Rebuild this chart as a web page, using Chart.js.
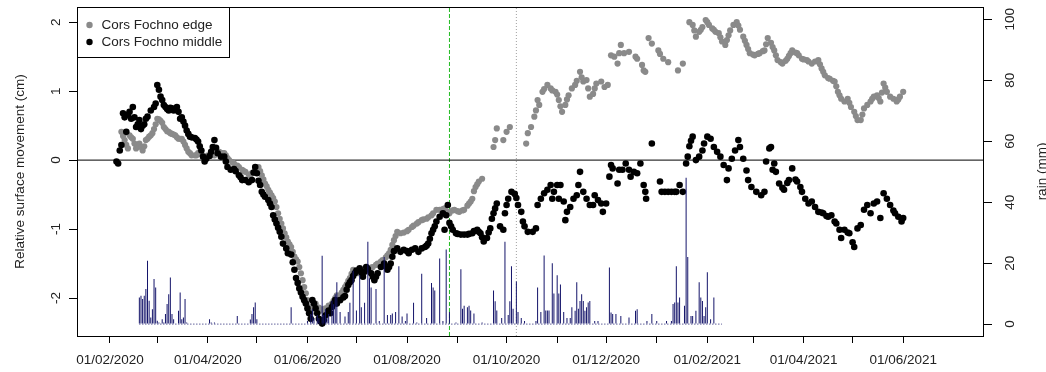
<!DOCTYPE html>
<html>
<head>
<meta charset="utf-8">
<script src="https://cdn.jsdelivr.net/npm/chart.js@4.4.0/dist/chart.umd.min.js"></script>
<style>
  body { margin: 0; background: #fff; }
  canvas { display: block; }
</style>
</head>
<body>
<canvas id="movementChart" width="1046" height="372"></canvas>
<script>
// Day numbers count from 01/02/2020 (day 0)
const START = Date.UTC(2020, 1, 1);
const DAY_MS = 86400000;

// Cors Fochno edge: [day, cm]
const edgeSeries = [
  [7,0.41],[8,0.35],[9,0.29],[10,0.22],[11,0.17],[12,0.36],[13,0.33],[14,0.31],[15,0.24],[16,0.17],[17,0.20],[18,0.24],
  [19,0.19],[20,0.14],[21,0.20],[22,0.29],[23,0.31],[24,0.34],[25,0.36],[26,0.39],[27,0.45],[28,0.52],[29,0.60],[30,0.59],
  [31,0.57],[32,0.54],[33,0.48],[34,0.45],[35,0.42],[36,0.41],[37,0.39],[38,0.38],[39,0.37],[40,0.36],[41,0.33],[42,0.31],
  [43,0.31],[44,0.31],[45,0.27],[46,0.22],[47,0.17],[48,0.12],[49,0.10],[50,0.07],[52,0.07],[53,0.07],[54,0.10],[55,0.12],
  [56,0.09],[58,0.05],[60,0.07],[62,0.07],[64,0.07],[66,0.11],[67,0.12],[69,0.10],[70,0.10],[71,0.07],[72,0.03],[73,0.0],
  [75,-0.03],[76,-0.05],[78,-0.08],[79,-0.10],[81,-0.14],[82,-0.16],[83,-0.17],[85,-0.21],[86,-0.22],[87,-0.19],[89,-0.14],
  [90,-0.12],[91,-0.10],[92,-0.16],[93,-0.22],[94,-0.28],[95,-0.34],[96,-0.38],[97,-0.43],[98,-0.47],[99,-0.51],[100,-0.55],
  [101,-0.60],[102,-0.68],[103,-0.77],[104,-0.85],[105,-0.92],[106,-0.99],[107,-1.06],[108,-1.12],[109,-1.18],[110,-1.22],
  [111,-1.26],[112,-1.33],[113,-1.40],[114,-1.44],[115,-1.47],[116,-1.55],[117,-1.64],[118,-1.74],[119,-1.84],[120,-1.93],
  [121,-2.03],[122,-2.12],[123,-2.22],[124,-2.15],[125,-2.10],[126,-2.08],[128,-2.14],[129,-2.18],[131,-2.16],[132,-2.15],
  [134,-2.11],[136,-2.08],[137,-2.04],[138,-2.00],[139,-1.96],[141,-1.96],[142,-1.92],[143,-1.88],[144,-1.84],[145,-1.80],
  [146,-1.75],[147,-1.71],[148,-1.65],[149,-1.59],[151,-1.63],[152,-1.64],[154,-1.60],[155,-1.59],[157,-1.58],[158,-1.57],
  [160,-1.56],[161,-1.55],[163,-1.52],[164,-1.50],[166,-1.47],[167,-1.45],[169,-1.41],[170,-1.38],[171,-1.35],[172,-1.30],
  [173,-1.23],[174,-1.16],[175,-1.10],[176,-1.04],[178,-1.06],[180,-1.05],[182,-1.03],[183,-1.01],[185,-0.97],[186,-0.95],
  [188,-0.92],[189,-0.90],[191,-0.87],[192,-0.86],[194,-0.85],[195,-0.83],[197,-0.80],[198,-0.77],[200,-0.72],[202,-0.72],
  [204,-0.71],[205,-0.70],[207,-0.75],[208,-0.77],[210,-0.73],[211,-0.72],[213,-0.74],[214,-0.75],[216,-0.73],[217,-0.72],
  [219,-0.66],[220,-0.63],[221,-0.60],[222,-0.56],[223,-0.45],[224,-0.39],[225,-0.35],[226,-0.31],[228,-0.27],
  [235,0.19],[236,0.29],[237,0.46],[241,0.29],[243,0.41],[245,0.48],
  [255,0.24],[256,0.39],[258,0.48],[260,0.63],[261,0.72],[262,0.87],[263,0.80],[265,0.99],[266,1.03],[268,1.09],[270,1.04],
  [271,1.01],[273,0.99],[274,0.95],[275,0.87],[276,0.78],[277,0.70],[279,0.80],[280,0.88],[281,0.94],[283,1.04],[285,1.09],
  [286,1.15],[288,1.28],[289,1.20],[290,1.14],[292,1.16],[293,1.04],[294,0.92],[296,0.96],[297,1.04],[298,1.11],[301,1.14],
  [303,1.06],[305,1.09],[307,1.52],[309,1.50],[311,1.40],[312,1.55],[313,1.67],[315,1.55],[318,1.57],[322,1.50],[323,1.47],
  [326,1.38],[327,1.30],[328,1.28],[330,1.77],[332,1.69],[336,1.59],[337,1.54],[339,1.47],[342,1.42],[348,1.30],[351,1.40],
  [355,2.00],[357,1.96],[358,1.88],[359,1.79],[361,1.86],[362,1.89],[363,1.93],[365,2.03],[366,2.00],[367,1.96],[369,1.91],
  [370,1.89],[371,1.86],[373,1.84],[374,1.78],[375,1.72],[377,1.67],[378,1.74],[379,1.81],[380,1.88],[382,1.96],[384,2.00],
  [385,1.95],[386,1.89],[388,1.79],[389,1.73],[390,1.67],[391,1.61],[392,1.55],[394,1.53],[395,1.52],[397,1.54],[398,1.55],
  [400,1.58],[401,1.59],[402,1.68],[403,1.77],[405,1.70],[406,1.64],[407,1.59],[408,1.52],[409,1.45],[411,1.42],[412,1.40],
  [414,1.44],[415,1.47],[416,1.51],[417,1.55],[418,1.59],[420,1.56],[421,1.55],[422,1.52],[424,1.47],[425,1.46],[427,1.45],
  [428,1.43],[430,1.40],[432,1.43],[434,1.45],[435,1.39],[436,1.33],[437,1.28],[438,1.23],[440,1.19],[441,1.18],[443,1.15],
  [444,1.14],[445,1.07],[446,0.99],[447,0.94],[448,0.89],[450,0.85],[452,0.89],[453,0.83],[454,0.77],[456,0.70],[457,0.64],
  [458,0.58],[460,0.58],[461,0.66],[462,0.75],[464,0.80],[466,0.85],[467,0.89],[468,0.92],[470,0.94],[471,0.90],[472,0.85],
  [473,0.98],[474,1.11],[475,1.05],[476,0.99],[478,0.92],[480,0.89],[482,0.85],[483,0.88],[484,0.92],[486,0.99]
];

// Cors Fochno middle: [day, cm]
const middleSeries = [
  [4,-0.02],[5,-0.05],[6,0.14],[7,0.22],[8,0.68],[9,0.62],[10,0.41],[11,0.66],[12,0.70],[13,0.60],[14,0.77],[15,0.62],
  [16,0.48],[17,0.52],[18,0.58],[19,0.45],[20,0.50],[21,0.52],[22,0.60],[23,0.63],[25,0.72],[27,0.77],[28,0.82],[29,1.09],
  [30,1.02],[31,0.92],[32,0.87],[33,0.80],[34,0.77],[35,0.74],[36,0.72],[37,0.76],[38,0.75],[39,0.72],[41,0.77],[42,0.70],
  [43,0.60],[44,0.62],[45,0.56],[46,0.50],[47,0.43],[48,0.38],[49,0.34],[50,0.33],[52,0.32],[53,0.30],[54,0.27],[55,0.20],
  [56,0.14],[57,0.05],[58,-0.02],[59,0.02],[61,0.06],[62,0.12],[63,0.19],[64,0.29],[65,0.18],[66,0.10],[68,0.05],[70,0.05],
  [71,-0.02],[72,-0.10],[74,-0.14],[76,-0.13],[77,-0.16],[79,-0.22],[80,-0.25],[81,-0.29],[83,-0.29],[85,-0.32],[87,-0.29],
  [88,-0.18],[89,-0.10],[90,-0.19],[91,-0.30],[92,-0.36],[93,-0.46],[94,-0.50],[95,-0.53],[97,-0.58],[98,-0.63],[99,-0.68],
  [100,-0.80],[101,-0.86],[102,-0.92],[103,-0.98],[104,-1.04],[105,-1.11],[106,-1.21],[108,-1.28],[109,-1.35],[111,-1.37],
  [112,-1.48],[113,-1.59],[114,-1.71],[115,-1.78],[116,-1.86],[117,-1.92],[118,-1.98],[119,-2.03],[120,-2.08],[121,-2.15],
  [122,-2.22],[123,-2.30],[124,-2.03],[125,-2.08],[126,-2.15],[127,-2.22],[128,-2.30],[129,-2.34],[130,-2.37],[131,-2.32],
  [132,-2.25],[134,-2.18],[135,-2.22],[136,-2.13],[137,-2.08],[138,-2.03],[139,-2.08],[141,-2.03],[143,-1.99],[144,-1.97],
  [145,-1.88],[146,-1.81],[147,-1.77],[148,-1.74],[149,-1.68],[150,-1.64],[151,-1.60],[153,-1.57],[154,-1.63],[155,-1.69],
  [156,-1.62],[157,-1.55],[158,-1.58],[160,-1.64],[161,-1.69],[162,-1.74],[163,-1.69],[164,-1.64],[166,-1.55],[168,-1.50],
  [169,-1.54],[170,-1.59],[171,-1.55],[172,-1.50],[173,-1.40],[174,-1.32],[176,-1.28],[178,-1.33],[180,-1.30],[182,-1.32],
  [183,-1.35],[185,-1.30],[187,-1.28],[189,-1.33],[191,-1.28],[193,-1.26],[194,-1.24],[195,-1.21],[196,-1.14],[197,-1.06],
  [198,-1.01],[199,-0.96],[200,-0.89],[202,-0.82],[204,-0.77],[205,-1.01],[206,-0.80],[207,-0.65],[208,-0.91],[209,-0.96],
  [210,-1.01],[212,-1.06],[213,-1.07],[215,-1.08],[217,-1.08],[219,-1.08],[220,-1.07],[222,-1.06],[223,-1.03],[225,-1.01],
  [226,-1.04],[227,-1.06],[228,-1.12],[229,-1.18],[231,-1.13],[232,-1.05],[233,-0.99],[234,-0.85],[235,-0.77],[236,-0.70],
  [237,-0.63],[239,-0.96],[241,-1.01],[242,-0.77],[243,-0.65],[244,-0.56],[246,-0.46],[248,-0.49],[249,-0.55],[250,-0.65],
  [252,-0.75],[253,-0.89],[254,-0.96],[256,-1.04],[259,-1.04],[261,-0.99],[262,-0.65],[264,-0.56],[266,-0.48],[268,-0.43],
  [270,-0.36],[271,-0.56],[272,-0.46],[274,-0.36],[275,-0.56],[276,-0.36],[278,-0.60],[279,-0.87],[280,-0.75],[282,-0.68],
  [284,-0.56],[286,-0.51],[287,-0.36],[288,-0.17],[290,-0.46],[292,-0.56],[294,-0.65],[296,-0.65],[297,-0.51],[299,-0.58],
  [301,-0.63],[302,-0.75],[304,-0.63],[306,-0.24],[307,-0.07],[308,-0.12],[311,-0.34],[312,-0.14],[314,-0.14],[316,-0.05],
  [318,-0.14],[319,-0.24],[321,-0.17],[323,-0.19],[325,-0.05],[327,-0.36],[328,-0.46],[328.5,-0.56],[332,0.24],[337,-0.31],
  [338,-0.46],[340,-0.46],[342,-0.46],[344,-0.46],[346,-0.46],[347,-0.46],[349,-0.36],[351,-0.46],[353,-0.05],[354,0.05],
  [355,0.20],[356,0.28],[357,0.34],[359,0.0],[361,0.05],[363,0.14],[364,0.24],[366,0.34],[368,0.31],[370,0.19],[372,0.12],
  [374,0.05],[376,-0.07],[378,-0.29],[379,-0.12],[381,0.02],[383,0.14],[385,0.29],[386,0.19],[388,0.02],[390,-0.15],
  [391,-0.29],[393,-0.39],[396,-0.46],[399,-0.51],[401,-0.46],[402,-0.02],[404,0.17],[405,0.19],[406,-0.14],[407,-0.05],
  [408,-0.17],[410,-0.34],[412,-0.40],[413,-0.43],[415,-0.33],[416,-0.29],[418,-0.12],[420,-0.28],[421,-0.31],[423,-0.39],
  [424,-0.46],[426,-0.56],[428,-0.63],[430,-0.60],[432,-0.68],[434,-0.75],[436,-0.76],[437,-0.77],[439,-0.81],[440,-0.82],
  [442,-0.80],[444,-0.89],[445,-0.92],[447,-1.01],[448,-1.13],[450,-1.01],[452,-1.05],[453,-1.06],[455,-1.19],[456,-1.26],
  [458,-0.99],[460,-0.94],[462,-0.72],[464,-0.65],[466,-0.77],[468,-0.63],[470,-0.60],[472,-0.84],[474,-0.48],[476,-0.56],
  [478,-0.65],[480,-0.73],[481,-0.77],[483,-0.82],[485,-0.89],[486,-0.84]
];

// Daily rain: [day, mm]
const rainSeries = [
  [18,8.7],[19,9.3],[20,8.2],[21,9.3],[22,11.5],[23,20.8],[24,7.7],[25,2.2],[26,4.9],[27,14.8],[28,12],[29,1.1],[30,0.5],
  [32,1.6],[33,0.5],[34,3.3],[35,6.6],[36,9.8],[37,15.3],[38,3.3],[39,1.6],[42,4.4],[43,10.4],[44,1.6],[45,2.2],[46,8.2],
  [47,0.5],[61,1.6],[62,0.5],[64,0.5],[78,2.7],[86,1.5],[87,3.3],[88,5.5],[89,7.1],[90,1.6],[111,5.5],[121,1],[123,3.3],
  [124,4.9],[125,2],[127,3],[128,2],[130,22.4],[131,3],[132,4.9],[133,2],[134,3.3],[136,7.7],[137,6.5],[138,9.8],[139,13.7],
  [141,4],[144,2.5],[146,4],[147,7],[149,17.5],[151,4.5],[153,16],[154,5.5],[156,7],[158,27],[159,15],[160,12],[163,11.5],
  [165,1],[168,22],[170,3],[172,3],[173,3.5],[175,4],[177,19],[179,2.5],[181,1],[182,3.5],[186,7],[188,0.5],[191,16.5],
  [194,2],[197,13.5],[198,12],[199,11],[202,21.5],[204,1],[206,24.5],[208,4],[212,0.5],[215,18],[216,5],[217,6],[219,5.5],
  [220,6],[221,4.5],[223,3.5],[228,0.5],[235,11],[236,7.5],[237,4.5],[240,2],[242,27],[244,3],[245,7.5],[246,19],[247,5],
  [249,14],[250,4],[252,2],[254,1],[261,1],[262,12],[264,4],[266,22.5],[267,4.5],[268,4.5],[269,4.5],[271,20],[272,10],
  [274,16],[275,10],[276,13],[278,4],[280,2],[282,2],[283,5.5],[285,4.4],[286,13.7],[287,5],[288,7.6],[289,9.8],[290,7.6],
  [291,4.4],[292,5.5],[293,7.1],[294,7.6],[297,1],[299,1],[306,18.6],[307,3.8],[308,3.3],[310,3.3],[313,2.7],[318,2.2],
  [322,4.4],[323,4.9],[329,1],[332,3.3],[335,1],[341,1],[344,1],[345,6.6],[346,7.1],[347,19],[348,7.1],[349,8.7],[352,6],
  [353,48],[354,22],[356,2.7],[357,2.7],[359,4.4],[361,13.7],[362,8.7],[363,7.6],[364,2.7],[365,5.5],[366,17],[368,1.6],
  [370,8.7],[375,0.2]
];

// Marked dates (vertical lines)
const greenLineDate = Date.UTC(2020, 7, 27);
const greyLineDate = Date.UTC(2020, 9, 7);

// Axis ticks
const monthTicks = [
  [2020,1],[2020,2],[2020,3],[2020,4],[2020,5],[2020,6],[2020,7],[2020,8],[2020,9],[2020,10],[2020,11],
  [2021,0],[2021,1],[2021,2],[2021,3],[2021,4],[2021,5]
];
const monthLabels = ['01/02/2020','','01/04/2020','','01/06/2020','','01/08/2020','','01/10/2020','','01/12/2020',
  '','01/02/2021','','01/04/2021','','01/06/2021'];
const leftTicks = [-2, -1, 0, 1, 2];
const rightTicks = [0, 20, 40, 60, 80, 100];

const X_MIN = -20.2, X_MAX = 534.9;
const Y_MIN = -2.55, Y_MAX = 2.22;
const R_MIN = -3.9, R_MAX = 104;

const toDay = t => (t - START) / DAY_MS;
const tickDays = monthTicks.map(([y, m]) => toDay(Date.UTC(y, m, 1)));
const pts = arr => arr.map(([d, v]) => ({ x: d, y: v }));

const FONT = { family: 'Liberation Sans, Arial, sans-serif', size: 13.5 };
const TEXT = '#222';
const RAIN = '#14146a';

// Box, rotated axis labels, titles and legend
const decorations = {
    id: 'decorations',
    afterDraw(chart) {
        const ctx = chart.ctx;
        const a = chart.chartArea;
        ctx.save();
        ctx.strokeStyle = '#000';
        ctx.lineWidth = 1;
        ctx.strokeRect(Math.round(a.left) + 0.5, Math.round(a.top) + 0.5,
            Math.round(a.right - a.left), Math.round(a.bottom - a.top));

        ctx.fillStyle = TEXT;
        ctx.font = FONT.size + 'px ' + FONT.family;
        ctx.textAlign = 'center';
        ctx.textBaseline = 'middle';
        const rotText = (txt, x, y) => {
            ctx.save();
            ctx.translate(x, y);
            ctx.rotate(-Math.PI / 2);
            ctx.fillText(txt, 0, 0);
            ctx.restore();
        };
        const yl = chart.scales.y, yr = chart.scales.y1;
        yl.ticks.forEach(t => rotText(String(t.value), 56, yl.getPixelForValue(t.value)));
        yr.ticks.forEach(t => rotText(String(t.value), 1010, yr.getPixelForValue(t.value)));
        const mid = (a.top + a.bottom) / 2;
        rotText('Relative surface movement (cm)', 20, mid);
        rotText('rain (mm)', 1042, mid);

        // legend box
        const lx = Math.round(a.left) + 0.5, ly = Math.round(a.top) + 0.5;
        ctx.fillStyle = '#fff';
        ctx.fillRect(lx, ly, 152, 50);
        ctx.strokeRect(lx, ly, 152, 50);
        const items = [chart.data.datasets[1], chart.data.datasets[0]];
        items.forEach((ds, i) => {
            const cy = ly + 17.5 + i * 17;
            ctx.fillStyle = ds.backgroundColor;
            ctx.beginPath();
            ctx.arc(lx + 12, cy, 3.2, 0, Math.PI * 2);
            ctx.fill();
            ctx.fillStyle = TEXT;
            ctx.textAlign = 'left';
            ctx.fillText(ds.label, lx + 24, cy);
        });
        ctx.restore();
    }
};

const ctx = document.getElementById('movementChart').getContext('2d');
new Chart(ctx, {
    data: {
        datasets: [
            {
                type: 'scatter',
                label: 'Cors Fochno middle',
                data: pts(middleSeries),
                backgroundColor: '#000',
                borderWidth: 0,
                pointRadius: 3.3,
                yAxisID: 'y',
                order: 1
            },
            {
                type: 'scatter',
                label: 'Cors Fochno edge',
                data: pts(edgeSeries),
                backgroundColor: '#8a8a8a',
                borderWidth: 0,
                pointRadius: 3.1,
                yAxisID: 'y',
                order: 2
            },
            {
                type: 'bar',
                label: 'rain',
                data: pts(rainSeries),
                backgroundColor: RAIN,
                barThickness: 1,
                inflateAmount: 0,
                yAxisID: 'y1',
                order: 0
            },
            {
                type: 'line',
                label: 'rain zero',
                data: [{ x: rainSeries[0][0], y: 0 }, { x: rainSeries[rainSeries.length - 1][0], y: 0 }],
                borderColor: RAIN,
                borderWidth: 1,
                borderDash: [1, 2],
                pointRadius: 0,
                yAxisID: 'y1',
                order: 0
            },
            {
                type: 'line',
                label: 'zero',
                data: [{ x: X_MIN, y: 0 }, { x: X_MAX, y: 0 }],
                borderColor: '#000',
                borderWidth: 1,
                pointRadius: 0,
                yAxisID: 'y',
                order: 3
            },
            {
                type: 'line',
                label: 'green marker',
                data: [{ x: toDay(greenLineDate), y: Y_MIN }, { x: toDay(greenLineDate), y: Y_MAX }],
                borderColor: '#22bb22',
                borderWidth: 1,
                borderDash: [4, 2],
                pointRadius: 0,
                yAxisID: 'y',
                order: 4
            },
            {
                type: 'line',
                label: 'grey marker',
                data: [{ x: toDay(greyLineDate), y: Y_MIN }, { x: toDay(greyLineDate), y: Y_MAX }],
                borderColor: '#a0a0a0',
                borderWidth: 1,
                borderDash: [1, 2],
                pointRadius: 0,
                yAxisID: 'y',
                order: 4
            }
        ]
    },
    options: {
        responsive: false,
        animation: false,
        events: [],
        layout: { padding: { top: 7, left: 0, right: 0, bottom: 0 } },
        plugins: {
            legend: { display: false },
            tooltip: { enabled: false }
        },
        scales: {
            x: {
                type: 'linear',
                offset: false,
                min: X_MIN,
                max: X_MAX,
                afterBuildTicks: s => { s.ticks = tickDays.map(v => ({ value: v })); },
                afterFit: s => { s.height = 36; },
                ticks: {
                    autoSkip: false,
                    maxRotation: 0,
                    minRotation: 0,
                    padding: 9,
                    font: FONT,
                    color: TEXT,
                    callback: (v, i) => monthLabels[i]
                },
                grid: { offset: false, drawOnChartArea: false, tickLength: 7, color: '#000' },
                border: { display: false }
            },
            y: {
                type: 'linear',
                position: 'left',
                min: Y_MIN,
                max: Y_MAX,
                afterBuildTicks: s => { s.ticks = leftTicks.map(v => ({ value: v })); },
                afterFit: s => { s.width = 77; },
                ticks: { display: false },
                grid: { drawOnChartArea: false, tickLength: 8, color: '#000' },
                border: { display: false }
            },
            y1: {
                type: 'linear',
                position: 'right',
                min: R_MIN,
                max: R_MAX,
                afterBuildTicks: s => { s.ticks = rightTicks.map(v => ({ value: v })); },
                afterFit: s => { s.width = 63; },
                ticks: { display: false },
                grid: { drawOnChartArea: false, tickLength: 9, color: '#000' },
                border: { display: false }
            }
        }
    },
    plugins: [decorations]
});
</script>
</body>
</html>
